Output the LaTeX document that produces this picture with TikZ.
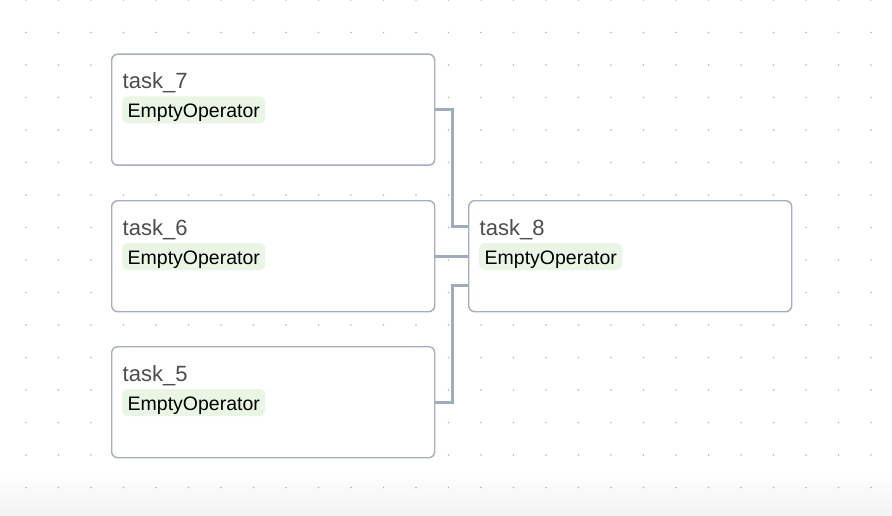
\documentclass[tikz,border=0pt]{standalone}
\usepackage{fontspec}
\setmainfont{Liberation Sans}
\usepackage{xcolor}
\usepackage{tikz}
\usetikzlibrary{positioning}
\definecolor{boxgray}{HTML}{A3AFC1}
\definecolor{linkgray}{HTML}{A0ACBE}
\definecolor{labelgray}{HTML}{4D4D4D}
\definecolor{pillgreen}{HTML}{EAF6E5}
\definecolor{dotgray}{HTML}{B4B4B4}
\tikzset{
  taskbox/.style={draw=boxgray, line width=1.4pt, rounded corners=6pt, fill=white,
    minimum width=323pt, minimum height=111pt, anchor=north west, inner sep=0pt},
  tasklabel/.style={anchor=base west, text=labelgray, inner sep=0pt,
    font=\fontsize{22}{26}\selectfont},
  oppill/.style={anchor=base west, fill=pillgreen, rounded corners=6pt, text=black,
    inner xsep=5.5pt, inner ysep=0pt, text height=21pt, text depth=6pt,
    font=\fontsize{19.5}{23}\selectfont},
  link/.style={draw=linkgray, line width=2.9pt},
}

\begin{document}
\begin{tikzpicture}[x=1pt, y=-1pt]

    \useasboundingbox (0,0) rectangle (892,516); % Fixes the page...

    \shade[top color=white, bottom color=black!5] (0,470) rectangle (892,516);

    \foreach \x in {0,1,...,26}{% Two indices running over each
      \foreach \y in {0,1,...,15}{% point of the dotted background
        \fill[dotgray] (26+32.5*\x,32.5*\y) circle (0.8);
      }
    }

    % the four tasks
    \node[taskbox] (t7) at (111,53.5) {};
    \node[taskbox] (t6) at (111,200) {};
    \node[taskbox] (t5) at (111,346) {};
    \node[taskbox] (t8) at (468,200) {};

    \node[tasklabel] (t7name) at ([xshift=11.5pt,yshift=-35pt]t7.north west) {task\_7};
    \node[oppill] (t7op) at ([xshift=11pt,yshift=-64pt]t7.north west) {EmptyOperator};
    \node[tasklabel] (t6name) at ([xshift=11.5pt,yshift=-35pt]t6.north west) {task\_6};
    \node[oppill] (t6op) at ([xshift=11pt,yshift=-64pt]t6.north west) {EmptyOperator};
    \node[tasklabel] (t5name) at ([xshift=11.5pt,yshift=-35pt]t5.north west) {task\_5};
    \node[oppill] (t5op) at ([xshift=11pt,yshift=-64pt]t5.north west) {EmptyOperator};
    \node[tasklabel] (t8name) at ([xshift=11.5pt,yshift=-35pt]t8.north west) {task\_8};
    \node[oppill] (t8op) at ([xshift=11pt,yshift=-64pt]t8.north west) {EmptyOperator};

    % links into task_8
    \draw[link] (t7.east) -- ++(17.5,0) |- ([yshift=29.5pt]t8.west);
    \draw[link] (t6.east) -- (t8.west);
    \draw[link] (t5.east) -- ++(17.5,0) |- ([yshift=-29.5pt]t8.west);

\end{tikzpicture}
\end{document}
